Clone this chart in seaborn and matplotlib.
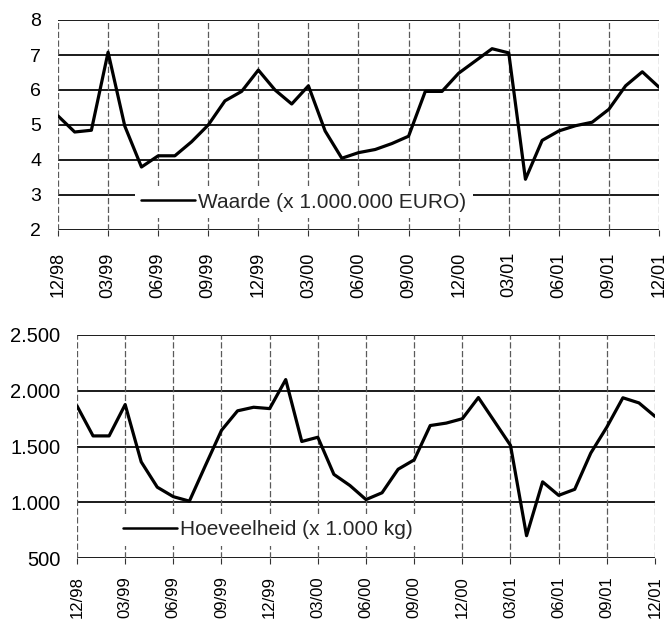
import matplotlib
matplotlib.use("Agg")
import matplotlib.pyplot as plt
import seaborn as sns
import pandas as pd
import numpy as np

# ---- data ----
months = ["12/98", "01/99", "02/99", "03/99", "04/99", "05/99", "06/99", "07/99", "08/99",
          "09/99", "10/99", "11/99", "12/99", "01/00", "02/00", "03/00", "04/00", "05/00",
          "06/00", "07/00", "08/00", "09/00", "10/00", "11/00", "12/00", "01/01", "02/01",
          "03/01", "04/01", "05/01", "06/01", "07/01", "08/01", "09/01", "10/01", "11/01", "12/01"]
waarde = [5.26, 4.8, 4.85, 7.08, 4.97, 3.8, 4.12, 4.12, 4.52, 5.0, 5.69, 5.96, 6.57, 6.0,
          5.6, 6.12, 4.83, 4.05, 4.21, 4.3, 4.47, 4.68, 5.96, 5.96, 6.48, 6.83, 7.18, 7.06,
          3.45, 4.56, 4.83, 4.98, 5.08, 5.45, 6.12, 6.52, 6.08]
hoeveelheid = [1864, 1595, 1595, 1876, 1362, 1135, 1050, 1010, 1330, 1645, 1820, 1852, 1840,
               2100, 1545, 1583, 1250, 1150, 1024, 1085, 1296, 1380, 1688, 1710, 1749, 1939,
               1725, 1510, 700, 1183, 1062, 1116, 1441, 1674, 1937, 1891, 1770]
tick_labels = ["12/98", "03/99", "06/99", "09/99", "12/99", "03/00", "06/00", "09/00",
               "12/00", "03/01", "06/01", "09/01", "12/01"]
top_yticks = [2, 3, 4, 5, 6, 7, 8]
bot_yticks = [500, 1000, 1500, 2000, 2500]
bot_ylabels = ["500", "1.000", "1.500", "2.000", "2.500"]
label_top = "Waarde (x 1.000.000 EURO)"
label_bot = "Hoeveelheid (x 1.000 kg)"

sns.set_theme(style="white")
plt.rcParams["font.family"] = ["Liberation Sans", "DejaVu Sans"]

idx = np.arange(len(months))
df = pd.DataFrame({"m": idx, "waarde": waarde, "hoeveelheid": hoeveelheid})
tick_pos = [months.index(t) for t in tick_labels]

fig = plt.figure(figsize=(6.67, 6.23), dpi=100)
ax1 = fig.add_axes([58 / 667, 1 - 230 / 623, 601 / 667, 210 / 623])
ax2 = fig.add_axes([77 / 667, 1 - 558 / 623, 578 / 667, 223 / 623])


def style(ax, yticks, ylabels, ylim, ysize, xsize, ypad, xpad):
    ax.set_xlim(0, len(months) - 1)
    ax.set_ylim(*ylim)
    ax.set_yticks(yticks)
    ax.set_yticklabels(ylabels, fontsize=ysize, color="black")
    ax.set_xticks(tick_pos)
    ax.set_xticklabels(tick_labels, rotation=90, fontsize=xsize, color="black")
    for s in ax.spines.values():
        s.set_visible(False)
    ax.tick_params(axis="x", bottom=True, length=4, width=0.8, color="#333333", pad=xpad)
    ax.tick_params(axis="y", left=False, pad=ypad)
    for y in yticks:
        ax.axhline(y, color="#1a1a1a", lw=1.4, zorder=1)
    for x in tick_pos:
        ax.axvline(x, color="#5a5a5a", lw=0.9, ls=(0, (5, 2)), zorder=1)
    ax.set_xlabel("")
    ax.set_ylabel("")


def style_legend(leg):
    fr = leg.get_frame()
    fr.set_facecolor("white")
    fr.set_edgecolor("none")
    fr.set_alpha(1)
    leg.set_zorder(5)
    for l in leg.get_lines():
        l.set_linewidth(1.8)


sns.lineplot(data=df, x="m", y="waarde", ax=ax1, color="black", lw=2.3, label=label_top, zorder=3)
style(ax1, top_yticks, [str(v) for v in top_yticks], (2, 8), 14, 13, 6, 12)
leg1 = ax1.legend(loc="center left", bbox_to_anchor=(0.128, 0.133), fontsize=15,
                  frameon=True, handlelength=2.6, handletextpad=0.15, borderpad=0.3,
                  borderaxespad=0)
style_legend(leg1)

sns.lineplot(data=df, x="m", y="hoeveelheid", ax=ax2, color="black", lw=2.3, label=label_bot, zorder=3)
style(ax2, bot_yticks, bot_ylabels, (500, 2500), 14.5, 12, 6, 9)
leg2 = ax2.legend(loc="center left", bbox_to_anchor=(0.068, 0.126), fontsize=15,
                  frameon=True, handlelength=2.6, handletextpad=0.15, borderpad=0.3,
                  borderaxespad=0)
style_legend(leg2)

fig.savefig("out.png", dpi=100, facecolor="white")
